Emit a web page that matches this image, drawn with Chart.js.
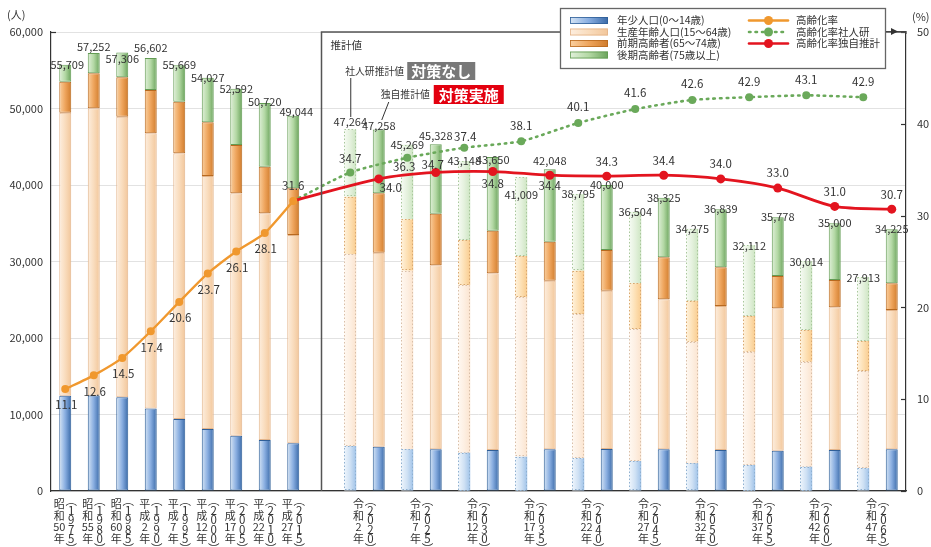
<!DOCTYPE html>
<html lang="ja">
<head>
<meta charset="utf-8">
<title>人口推移と将来推計</title>
<script src="https://cdn.jsdelivr.net/npm/chart.js@4.4.1/dist/chart.umd.min.js"></script>
<style>
  html, body { margin: 0; padding: 0; background: #ffffff; }
  #wrap { width: 931px; height: 547px; position: relative; }
</style>
</head>
<body>
<div id="wrap"><canvas id="chart" width="931" height="547"></canvas></div>
<script>
// ---- 実績 (1975-2015) ----
const histEra   = ['昭和50年', '昭和55年', '昭和60年', '平成2年', '平成7年', '平成12年', '平成17年', '平成22年', '平成27年'];
const histYears = [1975, 1980, 1985, 1990, 1995, 2000, 2005, 2010, 2015];
const youthHist = [12450, 12500, 12250, 10800, 9400, 8100, 7230, 6670, 6230];
const workHist  = [37000, 37520, 36680, 35960, 34740, 33080, 31680, 29630, 27230];
const earlyHist = [4050, 4580, 5150, 5660, 6750, 7010, 6320, 6090, 6110];
const lateHist  = [2209, 2652, 3226, 4182, 4779, 5837, 7362, 8330, 9474];
const totalHist = [55709, 57252, 57306, 56602, 55669, 54027, 52592, 50720, 49044];
const rateHist  = [11.1, 12.6, 14.5, 17.4, 20.6, 23.7, 26.1, 28.1, 31.6];

// ---- 推計値 (2020-2065) ----
const futEra   = ['令和2年', '令和7年', '令和12年', '令和17年', '令和22年', '令和27年', '令和32年', '令和37年', '令和42年', '令和47年'];
const futYears = [2020, 2025, 2030, 2035, 2040, 2045, 2050, 2055, 2060, 2065];

// 社人研推計値（対策なし）
const youthIpss = [5880, 5450, 5010, 4490, 4270, 3920, 3620, 3400, 3180, 2970];
const workIpss  = [25060, 23350, 21920, 20830, 18870, 17220, 15900, 14810, 13720, 12720];
const earlyIpss = [7530, 6710, 5880, 5400, 5660, 6010, 5360, 4670, 4140, 3920];
const lateIpss  = [8794, 9759, 10338, 10289, 9995, 9354, 9395, 9232, 8974, 8303];
const totalIpss = [47264, 45269, 43148, 41009, 38795, 36504, 34275, 32112, 30014, 27913];
const rateIpss  = [34.7, 36.3, 37.4, 38.1, 40.1, 41.6, 42.6, 42.9, 43.1, 42.9];

// 独自推計値（対策実施）
const youthOwn = [5800, 5450, 5360, 5450, 5490, 5450, 5360, 5270, 5360, 5450];
const workOwn  = [25350, 24050, 23100, 22040, 20690, 19610, 18820, 18610, 18650, 18210];
const earlyOwn = [7770, 6750, 5570, 5100, 5320, 5490, 5060, 4220, 3570, 3490];
const lateOwn  = [8338, 9078, 9620, 9458, 8500, 7775, 7599, 7678, 7420, 7075];
const totalOwn = [47258, 45328, 43650, 42048, 40000, 38325, 36839, 35778, 35000, 34225];
const rateOwn  = [34.0, 34.7, 34.8, 34.4, 34.3, 34.4, 34.0, 33.0, 31.0, 30.7];

const leftTicks  = [0, 10000, 20000, 30000, 40000, 50000, 60000];
const rightTicks = [0, 10, 20, 30, 40, 50];

// ---- slot layout: 9 actual years, one spacer, then 社人研/独自 pairs ----
const NH = histYears.length;
const SPACER = NH;
const FUT0 = NH + 1;
const NSLOT = FUT0 + futYears.length * 2;
const slotKeys = Array.from({ length: NSLOT }, (_, i) => 's' + i);
const ipssSlot = k => FUT0 + 2 * k;
const ownSlot  = k => FUT0 + 2 * k + 1;

function solidSeries(hist, own) {
  const a = new Array(NSLOT).fill(null);
  hist.forEach((v, i) => { a[i] = v; });
  own.forEach((v, k) => { a[ownSlot(k)] = v; });
  return a;
}
function dottedSeries(ipss) {
  const a = new Array(NSLOT).fill(null);
  ipss.forEach((v, k) => { a[ipssSlot(k)] = v; });
  return a;
}
const totalsBySlot = new Array(NSLOT).fill(null);
totalHist.forEach((v, i) => { totalsBySlot[i] = v; });
totalIpss.forEach((v, k) => { totalsBySlot[ipssSlot(k)] = v; });
totalOwn.forEach((v, k) => { totalsBySlot[ownSlot(k)] = v; });

const rateLine = new Array(NSLOT).fill(null);
rateHist.forEach((v, i) => { rateLine[i] = v; });
const ipssLine = new Array(NSLOT).fill(null);
ipssLine[NH - 1] = rateHist[NH - 1];
rateIpss.forEach((v, k) => { ipssLine[ipssSlot(k)] = v; });
const ownLine = new Array(NSLOT).fill(null);
ownLine[NH - 1] = rateHist[NH - 1];
rateOwn.forEach((v, k) => { ownLine[ownSlot(k)] = v; });

// ---- styling ----
const FONT = '"Noto Sans CJK JP", "Noto Sans", sans-serif';
const BAR_PCT = 0.42;
const TEXT = '#333333';

const fills = {
  youth:  ['#d6e5f5', '#88ade0', '#3a6aa8'],
  work:   ['#fdeedf', '#f9dcbd', '#f2c69a'],
  early:  ['#fad0a0', '#eea45c', '#d07c2c'],
  late:   ['#e1f0da', '#b3d8a4', '#6aa35b'],
  youthD: ['#eef5fc', '#cfe1f4', '#9fc2e8'],
  workD:  ['#fff8f1', '#fdefe2', '#fbe4cf'],
  earlyD: ['#fff2dc', '#fde0b4', '#f9cc8f'],
  lateD:  ['#f6fbf3', '#e4f1dd', '#cde5c2']
};
const edges = {
  youth: '#2f5f98', work: '#e3b48a', early: '#b8691f', late: '#639c54',
  youthD: '#8fb0d0', workD: '#d9bfa8', earlyD: '#d9a870', lateD: '#a9c79c'
};
const C_ORANGE = '#f0982e';
const C_GREEN = '#6aa95a';
const C_RED = '#e3141f';

function gradientFor(chart, x0, x1, stops) {
  const g = chart.ctx.createLinearGradient(x0, 0, x1, 0);
  stops.forEach((c, i) => g.addColorStop(i / (stops.length - 1), c));
  return g;
}
function barFill(key) {
  return (ctx) => {
    const stops = fills[key];
    if (ctx.type !== 'data' || !ctx.chart.chartArea) return stops[1];
    const xs = ctx.chart.scales.x;
    const cx = xs.getPixelForValue(ctx.dataIndex);
    const w = (xs.width / NSLOT) * BAR_PCT;
    return gradientFor(ctx.chart, cx - w / 2, cx + w / 2, stops);
  };
}
function barSet(label, data, key, dotted) {
  return {
    type: 'bar', label, data, yAxisID: 'y', stack: 'pop', order: 5,
    backgroundColor: barFill(key),
    borderColor: edges[key],
    borderWidth: dotted ? 0 : 1,
    borderSkipped: false,
    barPercentage: BAR_PCT, categoryPercentage: 1.0,
    dottedOutline: dotted
  };
}

const datasets = [
  barSet('年少人口', solidSeries(youthHist, youthOwn), 'youth', false),
  barSet('生産年齢人口', solidSeries(workHist, workOwn), 'work', false),
  barSet('前期高齢者', solidSeries(earlyHist, earlyOwn), 'early', false),
  barSet('後期高齢者', solidSeries(lateHist, lateOwn), 'late', false),
  barSet('年少人口(社人研)', dottedSeries(youthIpss), 'youthD', true),
  barSet('生産年齢人口(社人研)', dottedSeries(workIpss), 'workD', true),
  barSet('前期高齢者(社人研)', dottedSeries(earlyIpss), 'earlyD', true),
  barSet('後期高齢者(社人研)', dottedSeries(lateIpss), 'lateD', true),
  {
    type: 'line', label: '高齢化率社人研', data: ipssLine, yAxisID: 'y1', order: 2,
    borderColor: C_GREEN, backgroundColor: C_GREEN, borderWidth: 2.6,
    borderDash: [1.5, 5], borderCapStyle: 'round',
    pointRadius: (c) => c.dataIndex === NH - 1 ? 0 : 4, pointBorderWidth: 0,
    pointBackgroundColor: C_GREEN, spanGaps: true, tension: 0.2, fill: false
  },
  {
    type: 'line', label: '高齢化率独自推計', data: ownLine, yAxisID: 'y1', order: 1,
    borderColor: C_RED, backgroundColor: C_RED, borderWidth: 2.8,
    pointRadius: (c) => c.dataIndex === NH - 1 ? 0 : 4.5, pointBorderWidth: 0,
    pointBackgroundColor: C_RED, spanGaps: true, tension: 0.3, fill: false
  },
  {
    type: 'line', label: '高齢化率', data: rateLine, yAxisID: 'y1', order: 0,
    borderColor: C_ORANGE, backgroundColor: C_ORANGE, borderWidth: 2.4,
    pointRadius: 4, pointBorderWidth: 0, pointBackgroundColor: C_ORANGE,
    spanGaps: false, tension: 0.2, fill: false
  }
];

// label nudges (dx, dy) for crowded spots, keyed by slot index
const totalLabelShift = { 0: [2, 0], 1: [0, -6], 2: [0, 6], 3: [0, -10], 7: [0, -1], 8: [3, -4],
  10: [0, -8], 11: [0, -4], 13: [0, -8], 15: [0, 3], 16: [0, 18], 17: [0, -9] };
const rateLabelShift = {
  '高齢化率': { def: [1, 16], 8: [0, -15] },
  '高齢化率社人研': { def: [0, -16], 10: [0, -14], 12: [-3, 9], 14: [1, -11] },
  '高齢化率独自推計': { def: [0, -15], 11: [12, 9], 13: [-3, -8], 15: [0, 12], 17: [0, 10] }
};

function slotX(chart, i) { return chart.scales.x.getPixelForValue(i); }

const decorations = {
  id: 'decorations',
  afterDatasetDraw(chart, args) {
    const ds = chart.data.datasets[args.index];
    if (!ds.dottedOutline) return;
    const ctx = chart.ctx;
    const key = ['youthD', 'workD', 'earlyD', 'lateD'][args.index - 4];
    ctx.save();
    ctx.strokeStyle = edges[key];
    ctx.lineWidth = 1;
    ctx.setLineDash([1.5, 2]);
    args.meta.data.forEach((el, i) => {
      if (ds.data[i] == null) return;
      const p = el.getProps(['x', 'y', 'base', 'width'], true);
      const top = Math.min(p.y, p.base), bot = Math.max(p.y, p.base);
      ctx.strokeRect(Math.round(p.x - p.width / 2) + 0.5, Math.round(top) + 0.5,
        Math.round(p.width) - 1, Math.round(bot - top) - 1);
    });
    ctx.restore();
  },
  afterDatasetsDraw(chart) {
    const ctx = chart.ctx;
    const y = chart.scales.y;
    ctx.save();
    ctx.fillStyle = TEXT;
    ctx.font = '11px ' + FONT;
    ctx.textAlign = 'center';
    ctx.textBaseline = 'middle';
    // population totals
    totalsBySlot.forEach((v, i) => {
      if (v == null) return;
      const s = totalLabelShift[i] || [0, 0];
      ctx.fillText(v.toLocaleString('en-US'), slotX(chart, i) + s[0], y.getPixelForValue(v) + s[1]);
    });
    // ageing-rate labels
    ctx.font = '11.5px ' + FONT;
    chart.data.datasets.forEach((ds, di) => {
      const sh = rateLabelShift[ds.label];
      if (!sh) return;
      const meta = chart.getDatasetMeta(di);
      ds.data.forEach((v, i) => {
        if (v == null) return;
        if (ds.label !== '高齢化率' && i === NH - 1) return;
        const s = sh[i] || sh.def;
        const el = meta.data[i];
        ctx.fillText(v.toFixed(1), el.x + s[0], el.y + s[1]);
      });
    });
    ctx.restore();
  },
  afterDraw(chart) {
    const ctx = chart.ctx;
    const area = chart.chartArea;
    const y1 = chart.scales.y1;
    ctx.save();

    // inward ticks on the right axis
    ctx.strokeStyle = '#333';
    ctx.lineWidth = 1.2;
    rightTicks.forEach(t => {
      const py = Math.round(y1.getPixelForValue(t)) + 0.5;
      ctx.beginPath(); ctx.moveTo(area.right - 5, py); ctx.lineTo(area.right, py); ctx.stroke();
    });
    // small stub at the top of the left axis
    ctx.beginPath(); ctx.moveTo(area.left, area.top + 0.5); ctx.lineTo(area.left + 5, area.top + 0.5); ctx.stroke();

    // units
    ctx.fillStyle = TEXT;
    ctx.font = '11px ' + FONT;
    ctx.textBaseline = 'middle';
    ctx.textAlign = 'left';
    ctx.fillText('(人)', 7, 15);
    ctx.fillText('(%)', area.right + 6, 17);

    // category labels written vertically: era column + western-year column
    const drawCol = (cx, tokens, y0, step) => {
      tokens.forEach((t, r) => ctx.fillText(t, cx, y0 + r * step));
    };
    const eraTokens = (s) => {
      const m = s.match(/^(\D+?)(\d+)(年)$/);
      return [...m[1].split(''), m[2], m[3]];
    };
    const drawYear = (cx, era, year) => {
      ctx.textAlign = 'center';
      ctx.font = '11px ' + FONT;
      drawCol(cx - 6, eraTokens(era), area.bottom + 13, 11.5);
      ctx.font = '11.5px ' + FONT;
      drawCol(cx + 6, ['︵', ...String(year).split(''), '︶'], area.bottom + 10, 9.5);
    };
    histYears.forEach((yr, i) => drawYear(slotX(chart, i), histEra[i], yr));
    futYears.forEach((yr, k) => {
      const cx = (slotX(chart, ipssSlot(k)) + slotX(chart, ownSlot(k))) / 2;
      drawYear(cx, futEra[k], yr);
    });

    // 推計値 frame
    const bx = Math.round(slotX(chart, SPACER) - 1) + 0.5;
    ctx.strokeStyle = '#555';
    ctx.lineWidth = 1.5;
    ctx.beginPath();
    ctx.moveTo(bx, area.bottom);
    ctx.lineTo(bx, area.top);
    ctx.lineTo(area.right, area.top);
    ctx.stroke();

    ctx.fillStyle = TEXT;
    ctx.textAlign = 'left';
    ctx.font = '10.5px ' + FONT;
    ctx.fillText('推計値', bx + 9, 45);

    const x20a = slotX(chart, ipssSlot(0));
    const x20b = slotX(chart, ownSlot(0));
    ctx.font = '9.8px ' + FONT;
    ctx.fillText('社人研推計値', x20a - 5, 71);
    ctx.fillText('独自推計値', x20b + 2, 94);

    ctx.fillStyle = '#787878';
    ctx.fillRect(x20a + 57, 62, 68, 18);
    ctx.fillStyle = '#e3000f';
    ctx.fillRect(x20b + 55, 85, 70, 19);
    ctx.fillStyle = '#ffffff';
    ctx.textAlign = 'center';
    ctx.font = 'bold 15px ' + FONT;
    ctx.fillText('対策なし', x20a + 91, 71.5);
    ctx.fillText('対策実施', x20b + 90, 95);

    ctx.strokeStyle = '#333';
    ctx.lineWidth = 1;
    ctx.beginPath();
    ctx.moveTo(x20a + 0.5, 78); ctx.lineTo(x20a + 0.5, 117);
    ctx.moveTo(x20b + 10, 102); ctx.lineTo(x20b + 3, 120);
    ctx.stroke();

    // legend
    const L = { x: 560, y: 8, w: 325, h: 60 };
    ctx.fillStyle = '#ffffff';
    ctx.fillRect(L.x, L.y, L.w, L.h);
    ctx.strokeStyle = '#666';
    ctx.lineWidth = 1.3;
    ctx.strokeRect(L.x + 0.5, L.y + 0.5, L.w, L.h);

    // arrow from the legend towards the right axis
    ctx.strokeStyle = '#444';
    ctx.lineWidth = 1.2;
    ctx.beginPath();
    ctx.moveTo(L.x + L.w + 1, area.top - 0.5);
    ctx.lineTo(area.right, area.top - 0.5);
    ctx.lineTo(area.right, area.top + 2);
    ctx.stroke();
    ctx.fillStyle = '#333';
    ctx.beginPath();
    ctx.moveTo(area.right - 8, area.top - 0.5);
    ctx.lineTo(area.right - 15, area.top - 4);
    ctx.lineTo(area.right - 15, area.top + 3);
    ctx.closePath();
    ctx.fill();

    const rows = [20.5, 32, 43.5, 55];
    const boxItems = [
      ['年少人口(0〜14歳)', 'youth'],
      ['生産年齢人口(15〜64歳)', 'work'],
      ['前期高齢者(65〜74歳)', 'early'],
      ['後期高齢者(75歳以上)', 'late']
    ];
    ctx.font = '10.5px ' + FONT;
    ctx.textAlign = 'left';
    boxItems.forEach(([t, key], r) => {
      const sx = 570, sw = 38, sh = 7;
      ctx.fillStyle = gradientFor(chart, sx, sx + sw, fills[key]);
      ctx.fillRect(sx, rows[r] - sh / 2, sw, sh);
      ctx.strokeStyle = edges[key];
      ctx.lineWidth = 0.8;
      ctx.strokeRect(sx + 0.5, rows[r] - sh / 2 + 0.5, sw - 1, sh - 1);
      ctx.fillStyle = TEXT;
      ctx.fillText(t, 617, rows[r]);
    });
    const lineItems = [
      ['高齢化率', C_ORANGE, []],
      ['高齢化率社人研', C_GREEN, [1.5, 5]],
      ['高齢化率独自推計', C_RED, []]
    ];
    lineItems.forEach(([t, c, dash], r) => {
      ctx.strokeStyle = c;
      ctx.lineWidth = 2.6;
      ctx.lineCap = 'round';
      ctx.setLineDash(dash);
      ctx.beginPath(); ctx.moveTo(749, rows[r]); ctx.lineTo(788, rows[r]); ctx.stroke();
      ctx.setLineDash([]);
      ctx.fillStyle = c;
      ctx.beginPath(); ctx.arc(768.5, rows[r], 4.5, 0, Math.PI * 2); ctx.fill();
      ctx.fillStyle = TEXT;
      ctx.fillText(t, 796, rows[r]);
    });
    ctx.restore();
  }
};

new Chart(document.getElementById('chart'), {
  type: 'bar',
  data: { labels: slotKeys, datasets },
  plugins: [decorations],
  options: {
    responsive: false,
    animation: false,
    devicePixelRatio: 1,
    layout: { padding: { top: 32, left: 0, right: 0, bottom: 0 } },
    plugins: { legend: { display: false }, tooltip: { enabled: false } },
    scales: {
      x: {
        stacked: true,
        grid: { display: false, drawTicks: false },
        border: { display: true, color: '#333', width: 1.2 },
        ticks: { display: false },
        afterFit: (s) => { s.height = 56; }
      },
      y: {
        stacked: true, min: 0, max: 60000,
        afterBuildTicks: (s) => { s.ticks = leftTicks.map(v => ({ value: v })); },
        ticks: { padding: 8, color: TEXT, font: { family: FONT, size: 11 },
          callback: (v) => Number(v).toLocaleString('en-US') },
        grid: { color: '#e2e2e2', drawTicks: false, lineWidth: 1 },
        border: { color: '#333', width: 1.2 },
        afterFit: (s) => { s.width = 51; }
      },
      y1: {
        position: 'right', min: 0, max: 50,
        afterBuildTicks: (s) => { s.ticks = rightTicks.map(v => ({ value: v })); },
        ticks: { padding: 11, color: TEXT, font: { family: FONT, size: 11 } },
        grid: { display: false, drawTicks: false },
        border: { color: '#333', width: 1.2 },
        afterFit: (s) => { s.width = 25; }
      }
    }
  }
});
</script>
</body>
</html>
